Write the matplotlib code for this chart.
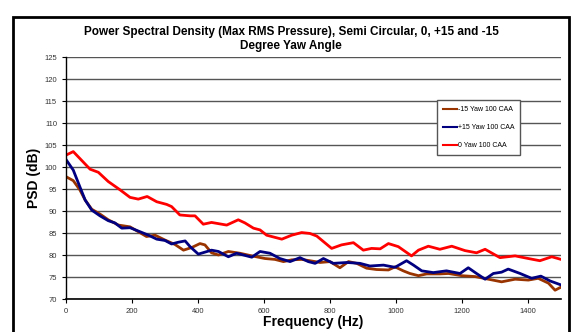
import matplotlib.pyplot as plt
from matplotlib.patches import Rectangle

plt.rcParams['font.family'] = ['Liberation Sans', 'DejaVu Sans']

# Frequency (Hz) / PSD (dB)
freq_m15 = [0, 22, 42, 58, 78, 103, 128, 159, 194, 219, 244, 270, 300, 330, 356, 381,
            406, 421, 441, 462, 492, 527, 563, 603, 633, 659, 684, 714, 755, 770, 800,
            830, 856, 881, 911, 941, 977, 997, 1022, 1042, 1068, 1093, 1133, 1159, 1199,
            1239, 1280, 1320, 1361, 1401, 1431, 1462, 1482, 1500]
psd_m15 = [97.8, 96.9, 94.8, 92.5, 90.4, 89.3, 88.0, 86.8, 86.4, 85.3, 84.2, 84.5, 83.4,
           82.4, 81.1, 81.7, 82.6, 82.3, 80.5, 80.0, 80.8, 80.4, 79.8, 79.2, 79.0, 78.5,
           78.9, 79.0, 78.5, 78.3, 78.5, 77.1, 78.5, 78.1, 77.0, 76.7, 76.6, 77.3, 76.4,
           75.8, 75.3, 75.7, 75.7, 75.8, 75.3, 75.1, 74.5, 73.9, 74.5, 74.3, 74.7, 73.6,
           72.0, 72.7]

freq_p15 = [0, 22, 42, 58, 78, 103, 128, 148, 169, 194, 224, 250, 275, 300, 320, 340,
            361, 376, 401, 441, 462, 492, 517, 563, 588, 618, 648, 679, 709, 734, 755,
            780, 810, 851, 891, 921, 962, 997, 1032, 1053, 1078, 1113, 1153, 1194, 1219,
            1244, 1270, 1295, 1320, 1340, 1376, 1411, 1439, 1467, 1500]
psd_p15 = [101.7, 99.3, 95.5, 92.5, 90.2, 88.9, 87.8, 87.3, 86.1, 86.2, 85.3, 84.5, 83.6,
           83.3, 82.5, 82.9, 83.2, 81.9, 80.2, 81.1, 80.8, 79.6, 80.4, 79.5, 80.8, 80.4,
           79.2, 78.5, 79.4, 78.5, 78.1, 79.2, 78.1, 78.3, 78.1, 77.5, 77.7, 77.2, 78.7,
           77.7, 76.4, 76.0, 76.4, 75.8, 77.1, 75.8, 74.5, 75.8, 76.1, 76.8, 75.8, 74.7,
           75.2, 74.1, 73.2]

freq_0 = [0, 22, 73, 98, 128, 164, 194, 219, 246, 275, 305, 320, 345, 376, 391, 416,
          441, 487, 522, 542, 568, 588, 608, 654, 684, 714, 739, 760, 805, 835, 871,
          901, 926, 952, 977, 1007, 1047, 1068, 1098, 1133, 1169, 1209, 1244, 1270,
          1315, 1361, 1401, 1436, 1472, 1500]
psd_0 = [102.7, 103.5, 99.5, 98.8, 96.7, 94.8, 93.1, 92.7, 93.3, 92.1, 91.5, 91.0, 89.1,
         88.9, 88.9, 87.0, 87.4, 86.8, 88.0, 87.3, 86.1, 85.7, 84.5, 83.6, 84.5, 85.1,
         84.9, 84.3, 81.5, 82.3, 82.8, 81.1, 81.5, 81.4, 82.6, 81.9, 79.8, 81.1, 82.0,
         81.3, 82.0, 81.0, 80.5, 81.3, 79.4, 79.8, 79.2, 78.7, 79.6, 79.0]

labels = ['-15 Yaw 100 CAA', '+15 Yaw 100 CAA', '0 Yaw 100 CAA']
colors = ['#993300', '#000080', '#ff0000']

fig = plt.figure(figsize=(5.82, 3.32), dpi=100)
ax = fig.add_axes([66 / 582, 1 - 299 / 332, 495 / 582, 242 / 332])

ax.plot(freq_m15, psd_m15, color=colors[0], lw=2, label=labels[0])
ax.plot(freq_p15, psd_p15, color=colors[1], lw=2, label=labels[1])
ax.plot(freq_0, psd_0, color=colors[2], lw=2, label=labels[2])

ax.set_xlim(0, 1500)
ax.set_ylim(70, 125)
ax.set_xticks(range(0, 1401, 200))
ax.set_yticks(range(70, 126, 5))
ax.tick_params(labelsize=5.5, labelcolor='#333333', length=3, width=0.8)
ax.yaxis.grid(True, color='#555555', lw=1)
ax.set_axisbelow(True)
for s in ['top', 'right']:
    ax.spines[s].set_visible(False)
ax.spines['left'].set_linewidth(1)
ax.spines['bottom'].set_linewidth(1.2)

ax.set_xlabel('Frequency (Hz)', fontsize=10, fontweight='bold', labelpad=0)
ax.set_ylabel('PSD (dB)', fontsize=10, fontweight='bold', labelpad=2)
fig.text(0.5, 1 - 39 / 332, 'Power Spectral Density (Max RMS Pressure), Semi Circular, 0, +15 and -15\nDegree Yaw Angle',
         ha='center', va='center', fontsize=8.5, fontweight='bold', linespacing=1.3)

leg = ax.legend(loc='upper left', bbox_to_anchor=(434 / 582, 1 - 97 / 332), bbox_transform=fig.transFigure,
                fontsize=5, frameon=True, fancybox=False, edgecolor='#555555', framealpha=1,
                handlelength=2, handletextpad=0.2, labelspacing=1.6, borderpad=0.8)
leg.get_frame().set_linewidth(1)
for line in leg.get_lines():
    line.set_linewidth(1.5)

# outer chart border
fig.patches.append(Rectangle((13 / 582, -0.05), 556 / 582, 1 - 17 / 332 + 0.05, transform=fig.transFigure,
                             fill=False, edgecolor='black', lw=2))

fig.savefig('out.png', dpi=100)
